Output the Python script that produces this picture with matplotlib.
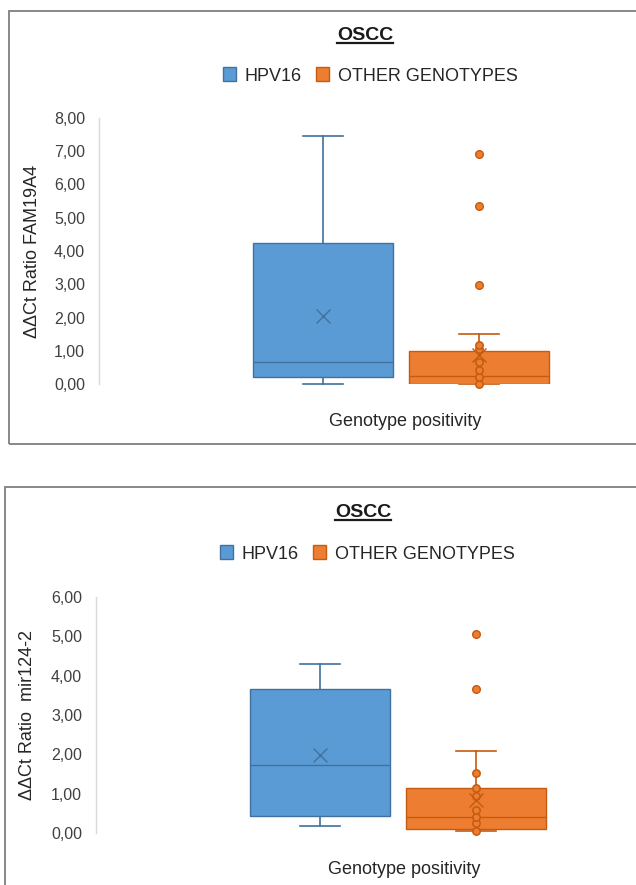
import matplotlib.pyplot as plt
from matplotlib.patches import Patch, Rectangle
from matplotlib.lines import Line2D
from matplotlib.ticker import FuncFormatter
from matplotlib.transforms import IdentityTransform

plt.rcParams['font.family'] = ['Liberation Sans', 'DejaVu Sans']

W, H = 636, 885
series = ["HPV16", "OTHER GENOTYPES"]

# FAM19A4 panel (box statistics)
fam_whislo = [0.00, 0.00]
fam_q1 = [0.21, 0.00]
fam_med = [0.66, 0.23]
fam_q3 = [4.24, 1.00]
fam_whishi = [7.47, 1.51]
fam_mean = [2.05, 0.87]
fam_outliers = [[], [2.99, 5.34, 6.93]]
fam_inner = [[], [0.00, 0.20, 0.42, 0.67, 1.05, 1.17]]

# mir124-2 panel
mir_whislo = [0.18, 0.06]
mir_q1 = [0.42, 0.09]
mir_med = [1.72, 0.41]
mir_q3 = [3.67, 1.15]
mir_whishi = [4.30, 2.09]
mir_mean = [1.99, 0.84]
mir_outliers = [[], [3.65, 5.05]]
mir_inner = [[], [0.06, 0.25, 0.41, 0.58, 0.95, 1.15, 1.53]]

face = ['#5B9BD5', '#ED7D31']
edge = ['#41719C', '#C55A11']

fig = plt.figure(figsize=(W / 100, H / 100), dpi=100)
fig.patch.set_facecolor('white')


def px_axes(left, top, right, bottom):
    return fig.add_axes([left / W, 1 - bottom / H, (right - left) / W, (bottom - top) / H])


def panel(box, ymax, whislo, q1, med, q3, whishi, mean, outliers, inner,
          ylabel, title_xy, legend_xy, ylabel_xy, xlabel_xy, frame):
    left, top, right, bottom = box
    ax = px_axes(left, top, right, bottom)
    unit = 156.0
    lo = -0.5 - 224 / unit
    ax.set_xlim(lo, lo + (right - left) / unit)
    ax.set_ylim(0, ymax)
    pos = [-0.5, 0.5]
    stats = []
    for i in range(2):
        stats.append(dict(whislo=whislo[i], q1=q1[i], med=med[i], q3=q3[i],
                          whishi=whishi[i], mean=mean[i], fliers=outliers[i],
                          label=series[i]))
    res = ax.bxp(stats, positions=pos, widths=0.9, patch_artist=True,
                 showmeans=True, showfliers=True, capwidths=0.26)
    for i in range(2):
        b = res['boxes'][i]
        b.set_facecolor(face[i]); b.set_edgecolor(edge[i]); b.set_linewidth(1.0)
        b.set_zorder(2)
        m = res['medians'][i]
        m.set_color(edge[i]); m.set_linewidth(1.0); m.set_zorder(2.5)
        for ln in res['whiskers'][2 * i:2 * i + 2] + res['caps'][2 * i:2 * i + 2]:
            ln.set_color(edge[i]); ln.set_linewidth(1.2); ln.set_zorder(1.5)
            ln.set_clip_on(False)
        mn = res['means'][i]
        mn.set_marker('x'); mn.set_markersize(10); mn.set_markeredgewidth(1.0)
        mn.set_markeredgecolor(edge[i]); mn.set_markerfacecolor('none'); mn.set_zorder(5)
        fl = res['fliers'][i]
        fl.set_marker('o'); fl.set_markersize(5.5); fl.set_markerfacecolor(face[i])
        fl.set_markeredgecolor(edge[i]); fl.set_markeredgewidth(1.0); fl.set_zorder(4)
        if inner[i]:
            ax.scatter([pos[i]] * len(inner[i]), inner[i], s=28, facecolor=face[i],
                       edgecolor=edge[i], linewidth=1.1, zorder=4, clip_on=False)

    for s in ['top', 'right', 'bottom']:
        ax.spines[s].set_visible(False)
    ax.spines['left'].set_color('#D9D9D9')
    ax.spines['left'].set_linewidth(1.0)
    ax.set_xticks([])
    ax.set_yticks(range(0, ymax + 1))
    ax.yaxis.set_major_formatter(FuncFormatter(lambda v, p: f"{v:.2f}".replace('.', ',')))
    ax.tick_params(axis='y', length=0, pad=10, labelsize=11.5, labelcolor='#404040')
    ax.set_facecolor('none')

    fig.text(ylabel_xy[0] / W, 1 - ylabel_xy[1] / H, ylabel, rotation=90,
             ha='center', va='center', fontsize=13, color='#262626')
    fig.text(xlabel_xy[0] / W, 1 - xlabel_xy[1] / H, "Genotype positivity",
             ha='center', va='center', fontsize=13, color='#262626')

    t = fig.text(title_xy[0] / W, 1 - title_xy[1] / H, "OSCC", ha='center',
                 va='baseline', fontsize=14, fontweight='bold', color='#1a1a1a')
    fig.canvas.draw()
    bb = t.get_window_extent()
    uy = H - (title_xy[1] + 3)
    fig.add_artist(Line2D([bb.x0, bb.x1], [uy, uy], color='#1a1a1a', lw=1.6,
                          transform=IdentityTransform()))

    handles = [Patch(facecolor=face[i], edgecolor=edge[i], label=series[i]) for i in range(2)]
    fig.legend(handles=handles, loc='center', ncol=2, frameon=False,
               bbox_to_anchor=(legend_xy[0] / W, 1 - legend_xy[1] / H),
               fontsize=13, handlelength=0.75, handleheight=0.8,
               handletextpad=0.45, columnspacing=0.8, labelcolor='#262626')

    fl_, ft, fr, fb = frame
    fig.add_artist(Rectangle((fl_ / W, 1 - fb / H), (fr - fl_) / W, (fb - ft) / H,
                             transform=fig.transFigure, fill=False,
                             edgecolor='#7F7F7F', lw=1.3))


panel((99, 118, 711, 384), 8, fam_whislo, fam_q1, fam_med, fam_q3, fam_whishi,
      fam_mean, fam_outliers, fam_inner, "ΔΔCt Ratio FAM19A4",
      (365, 40), (370, 76), (33, 251), (405, 422), (9, 11, 720, 444))

panel((96, 597, 712, 833), 6, mir_whislo, mir_q1, mir_med, mir_q3, mir_whishi,
      mir_mean, mir_outliers, mir_inner, "ΔΔCt Ratio  mir124-2",
      (363, 517), (367, 554), (28, 715), (404, 870), (5, 487, 720, 900))

fig.savefig('out.png', dpi=100, facecolor='white')
